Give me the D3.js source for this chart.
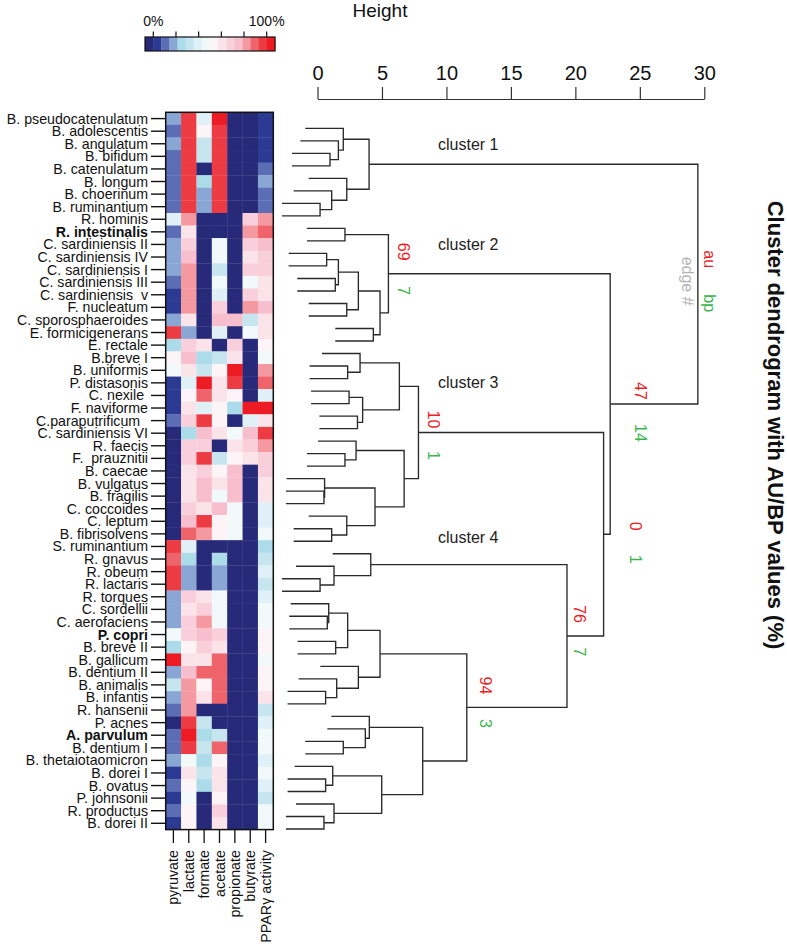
<!DOCTYPE html>
<html><head><meta charset="utf-8">
<script src="https://cdn.jsdelivr.net/npm/d3@7"></script>
<style>
body{margin:0;background:#fff}
text{font-family:"Liberation Sans",Arial,sans-serif}
</style>
</head><body><svg id="c" width="787" height="946"></svg>
<script>
const species = ["B. pseudocatenulatum","B. adolescentis","B. angulatum","B. bifidum","B. catenulatum","B. longum","B. choerinum","B. ruminantium","R. hominis","R. intestinalis","C. sardiniensis II","C. sardiniensis IV","C. sardiniensis I","C. sardiniensis III","C. sardiniensis  v","F. nucleatum","C. sporosphaeroides","E. formicigenerans","E. rectale","B.breve I","B. uniformis","P. distasonis","C. nexile ","F. naviforme","C.paraputrificum  ","C. sardiniensis VI","R. faecis","F.  prauznitii","B. caecae","B. vulgatus","B. fragilis","C. coccoides","C. leptum","B. fibrisolvens","S. ruminantium","R. gnavus","R. obeum","R. lactaris","R. torques","C. sordellii","C. aerofaciens","P. copri","B. breve II","B. gallicum","B. dentium II","B. animalis","B. infantis","R. hansenii","P. acnes","A. parvulum","B. dentium I","B. thetaiotaomicron","B. dorei I","B. ovatus","P. johnsonii","R. productus","B. dorei II"];
const boldSpecies = ["R. intestinalis","P. copri","A. parvulum"];
const metrics = ["pyruvate","lactate","formate","acetate","propionate","butyrate","PPARγ activity"];
// percent values per species (pyruvate, lactate, formate, acetate, propionate, butyrate, PPARγ)
const values = [
[22,91,41,97,3,3,9],[16,91,53,91,3,3,9],[22,91,34,91,3,3,9],[16,91,34,91,3,3,9],
[16,91,3,91,3,3,16],[16,91,28,91,3,3,22],[16,91,22,91,3,3,16],[16,91,22,91,3,3,16],
[41,78,3,3,3,66,78],[16,62,3,3,3,78,84],[22,66,3,47,3,66,72],[22,72,3,47,3,59,66],
[22,78,3,34,3,66,66],[16,78,3,47,3,47,59],[9,78,3,41,3,66,59],[9,78,3,66,3,78,72],
[22,59,3,72,72,34,59],[91,22,3,41,3,47,59],[28,66,59,3,66,3,53],[53,72,28,34,59,3,47],
[47,59,34,53,97,3,78],[9,41,97,59,91,3,84],[9,53,84,59,53,3,41],[9,59,41,53,28,97,97],
[16,66,91,53,3,41,59],[3,28,72,59,47,72,91],[3,66,66,3,59,66,78],[3,66,91,34,53,59,66],
[3,59,66,53,72,3,66],[3,59,72,59,72,3,59],[3,59,72,47,72,3,59],[3,66,59,72,47,3,41],
[3,72,91,53,47,3,41],[3,84,78,53,47,3,47],[91,41,3,3,3,3,28],[84,28,3,28,3,3,34],
[91,22,3,22,3,3,41],[91,22,3,22,3,3,34],[22,66,59,47,3,3,41],[22,59,66,47,3,3,47],
[22,66,78,47,3,3,47],[47,66,72,66,3,3,53],[28,53,66,59,3,3,53],[97,59,59,84,3,3,47],
[22,72,84,84,3,3,53],[34,78,53,84,3,3,53],[22,78,59,84,3,3,59],[16,78,3,3,3,3,34],
[3,91,34,3,3,3,41],[16,97,28,34,3,3,47],[16,91,34,84,3,3,47],[22,47,28,53,3,3,41],
[9,59,34,59,3,3,47],[16,53,28,59,3,3,41],[9,47,3,53,3,3,34],[16,53,3,66,3,3,47],
[9,53,3,59,3,3,47]
];
const palette = ["#262a78","#2c3a94","#5a6db5","#89a6d4","#acdbe9","#c6e5ef","#dff1f7","#f2f9fb","#fdf4f7","#fbe3ea","#f9cfdb","#f7bfce","#f4999f","#ef636a","#ec3b42","#ed1c24"];
const legendTicks = [0,20,40,60,80,100];
const legendLabels = {0:"0%",100:"100%"};
const heightTicks = [0,5,10,15,20,25,30];
// hclust-style merges: [left, right, height]; negative = leaf (1-based), positive = earlier merge (1-based)
const merges = [
[-7,-8,0.2],[-6,1,1.1],[-5,2,2.27],[-3,-4,0.97],[-2,4,1.62],[-1,5,2.0],[6,3,4.0],
[-9,-10,2.13],[-11,-12,0.71],[-13,-14,1.38],[9,10,1.62],[-15,-16,2.27],[11,12,3.17],[-17,-18,4.33],[13,14,4.85],[8,15,5.5],
[-20,-21,2.34],[-19,17,3.3],[-22,-23,2.45],[-24,-25,3.1],[19,20,3.5],[18,21,6.35],[-27,-28,2.13],[-26,23,2.99],
[-30,-31,0.5],[-29,25,0.55],[-33,-34,1.1],[-32,27,2.27],[26,28,4.46],[24,29,6.72],[22,30,7.83],
[-37,-38,0.2],[-36,32,1.28],[-35,33,4.13],[-40,-41,0.76],[-39,35,0.87],[-42,-43,1.41],[36,37,2.34],
[-46,-47,0.63],[-45,39,1.49],[-44,40,3.17],[38,41,4.85],[-50,-51,2.0],[-49,43,3.71],[-48,44,4.02],
[-53,-54,0.63],[-52,46,1.18],[-56,-57,0.5],[-55,48,1.28],[47,49,4.98],[45,50,8.16],[42,51,11.58],
[34,52,19.35],[31,53,22.19],[16,54,22.7],[7,55,29.5]
];
// [merge id, AU, BP]
const auBp = [[16,69,7],[31,10,1],[55,47,14],[54,0,1],[53,76,7],[52,94,3]];
// cluster annotations: [text, leaf position, height]
const clusterNotes = [["cluster 1",1.75,9.35],["cluster 2",9.7,9.35],["cluster 3",20.75,9.35],["cluster 4",33.15,9.35]];

const svg = d3.select("#c");
svg.append("rect").attr("width",787).attr("height",946).attr("fill","#fff");

// ---------- heatmap ----------
const hxB = d3.scaleBand().domain(metrics).range([165.7,273.3]);
const hyB = d3.scaleBand().domain(species).range([112.3,829.6]);
const color = d3.scaleQuantize().domain([0,100]).range(palette);
const hm = svg.append("g");
species.forEach((s,i)=>{
  metrics.forEach((m,j)=>{
    hm.append("rect").attr("x",hxB(m)).attr("y",hyB(s)).attr("width",hxB.bandwidth()+0.3).attr("height",hyB.bandwidth()+0.3)
      .attr("fill",color(values[i][j]));
  });
});
hm.append("rect").attr("x",hxB.range()[0]).attr("y",hyB.range()[0]).attr("width",hxB.range()[1]-hxB.range()[0])
  .attr("height",hyB.range()[1]-hyB.range()[0]).attr("fill","none").attr("stroke","#111").attr("stroke-width",1.5);
// row labels + ticks
species.forEach(s=>{
  const y = hyB(s)+hyB.bandwidth()/2;
  hm.append("line").attr("x1",151).attr("x2",165.7).attr("y1",y).attr("y2",y).attr("stroke","#111").attr("stroke-width",1.4);
  hm.append("text").attr("x",148).attr("y",y).attr("text-anchor","end").attr("dominant-baseline","central")
    .style("white-space","pre").attr("font-size",14.2).attr("fill","#111")
    .attr("font-weight",boldSpecies.includes(s)?"bold":"normal").text(s);
});
// column labels + ticks
metrics.forEach(m=>{
  const x = hxB(m)+hxB.bandwidth()/2;
  hm.append("line").attr("x1",x).attr("x2",x).attr("y1",829.6).attr("y2",843).attr("stroke","#111").attr("stroke-width",1.3);
  hm.append("text").attr("transform",`translate(${x},850) rotate(-90)`).attr("text-anchor","end").attr("dominant-baseline","central")
    .attr("font-size",14.3).attr("fill","#111").text(m);
});

// ---------- colour legend ----------
const lgB = d3.scaleBand().domain(d3.range(palette.length)).range([145,275]);
const lgX = d3.scaleLinear().domain([0,100]).range([153.3,266.7]);
palette.forEach((c,i)=>svg.append("rect").attr("x",lgB(i)).attr("y",37).attr("width",lgB.bandwidth()+0.3).attr("height",14).attr("fill",c));
svg.append("rect").attr("x",145).attr("y",37).attr("width",130).attr("height",14).attr("fill","none").attr("stroke","#111").attr("stroke-width",1.2);
legendTicks.forEach(t=>{
  svg.append("line").attr("x1",lgX(t)).attr("x2",lgX(t)).attr("y1",31.5).attr("y2",37).attr("stroke","#111").attr("stroke-width",1.2);
  if(legendLabels[t]) svg.append("text").attr("x",lgX(t)).attr("y",26).attr("text-anchor","middle").attr("font-size",14).attr("fill","#111").text(legendLabels[t]);
});

// ---------- dendrogram ----------
const hx = d3.scaleLinear().domain([0,30]).range([317.5,704.3]);
const leafY = d3.scaleLinear().domain([0,species.length-1]).range([128.3,829]);
const hang = 0.1*d3.max(merges,m=>m[2]);
const nodeY=[], nodeH=[];
const ref = r => r<0 ? {y:leafY(-r-1),h:null} : {y:nodeY[r-1],h:nodeH[r-1]};
const dg = svg.append("g").attr("fill","none").attr("stroke","#2a2a2a").attr("stroke-width",1.35);
merges.forEach((m,i)=>{
  const a=ref(m[0]), b=ref(m[1]), h=m[2];
  nodeY[i]=(a.y+b.y)/2; nodeH[i]=h;
  const xa = hx(a.h===null ? h-hang : a.h), xb = hx(b.h===null ? h-hang : b.h);
  dg.append("path").attr("d",`M${xa},${a.y}H${hx(h)}V${b.y}H${xb}`);
});
// axis
const ax = svg.append("g").attr("transform","translate(0,99)")
  .call(d3.axisTop(hx).tickValues(heightTicks).tickSize(12).tickSizeOuter(0).tickPadding(7));
ax.select(".domain").attr("stroke","#333").attr("stroke-width",1.2);
ax.selectAll(".tick line").attr("stroke","#333").attr("stroke-width",1.2);
ax.selectAll(".tick text").attr("font-size",20).attr("fill","#111").attr("font-family","Liberation Sans, Arial, sans-serif");
svg.append("text").attr("x",380).attr("y",17).attr("text-anchor","middle").attr("font-size",19).attr("fill","#111").text("Height");

// au / bp labels
const nudge = {55:[30,-13,29],54:[32,-8,25],31:[15,-13,23],16:[15,-22,17],53:[13,-22,16],52:[19,-22,16]};
auBp.forEach(([id,au,bp])=>{
  const x = hx(nodeH[id-1]), y = nodeY[id-1], n = nudge[id];
  svg.append("text").attr("transform",`translate(${x+n[0]},${y+n[1]}) rotate(90)`).attr("text-anchor","middle")
    .attr("dominant-baseline","central").attr("font-size",16).attr("fill","#ee1c25").text(au);
  svg.append("text").attr("transform",`translate(${x+n[0]},${y+n[2]}) rotate(90)`).attr("text-anchor","middle")
    .attr("dominant-baseline","central").attr("font-size",16).attr("fill","#3cb64a").text(bp);
});
// root legend
const rootId = merges.length-1, rx = hx(nodeH[rootId]), ry = nodeY[rootId];
[["au","#ee1c25",12,-25],["edge #","#b3b3b3",-10,-3],["bp","#3cb64a",12,19]].forEach(([t,c,dx,dy])=>{
  svg.append("text").attr("transform",`translate(${rx+dx},${ry+dy}) rotate(90)`).attr("text-anchor","middle")
    .attr("dominant-baseline","central").attr("font-size",16).attr("fill",c).text(t);
});
// cluster notes
clusterNotes.forEach(([t,l,h])=>{
  svg.append("text").attr("x",hx(h)).attr("y",leafY(l)).attr("font-family","Lato, 'Open Sans', sans-serif")
    .attr("font-size",16).attr("fill","#222").text(t);
});
// title
svg.append("text").attr("transform","translate(775,425) rotate(90)").attr("text-anchor","middle").attr("dominant-baseline","central")
  .attr("font-size",22).attr("font-weight","bold").attr("fill","#111").text("Cluster dendrogram with AU/BP values (%)");
</script></body></html>
